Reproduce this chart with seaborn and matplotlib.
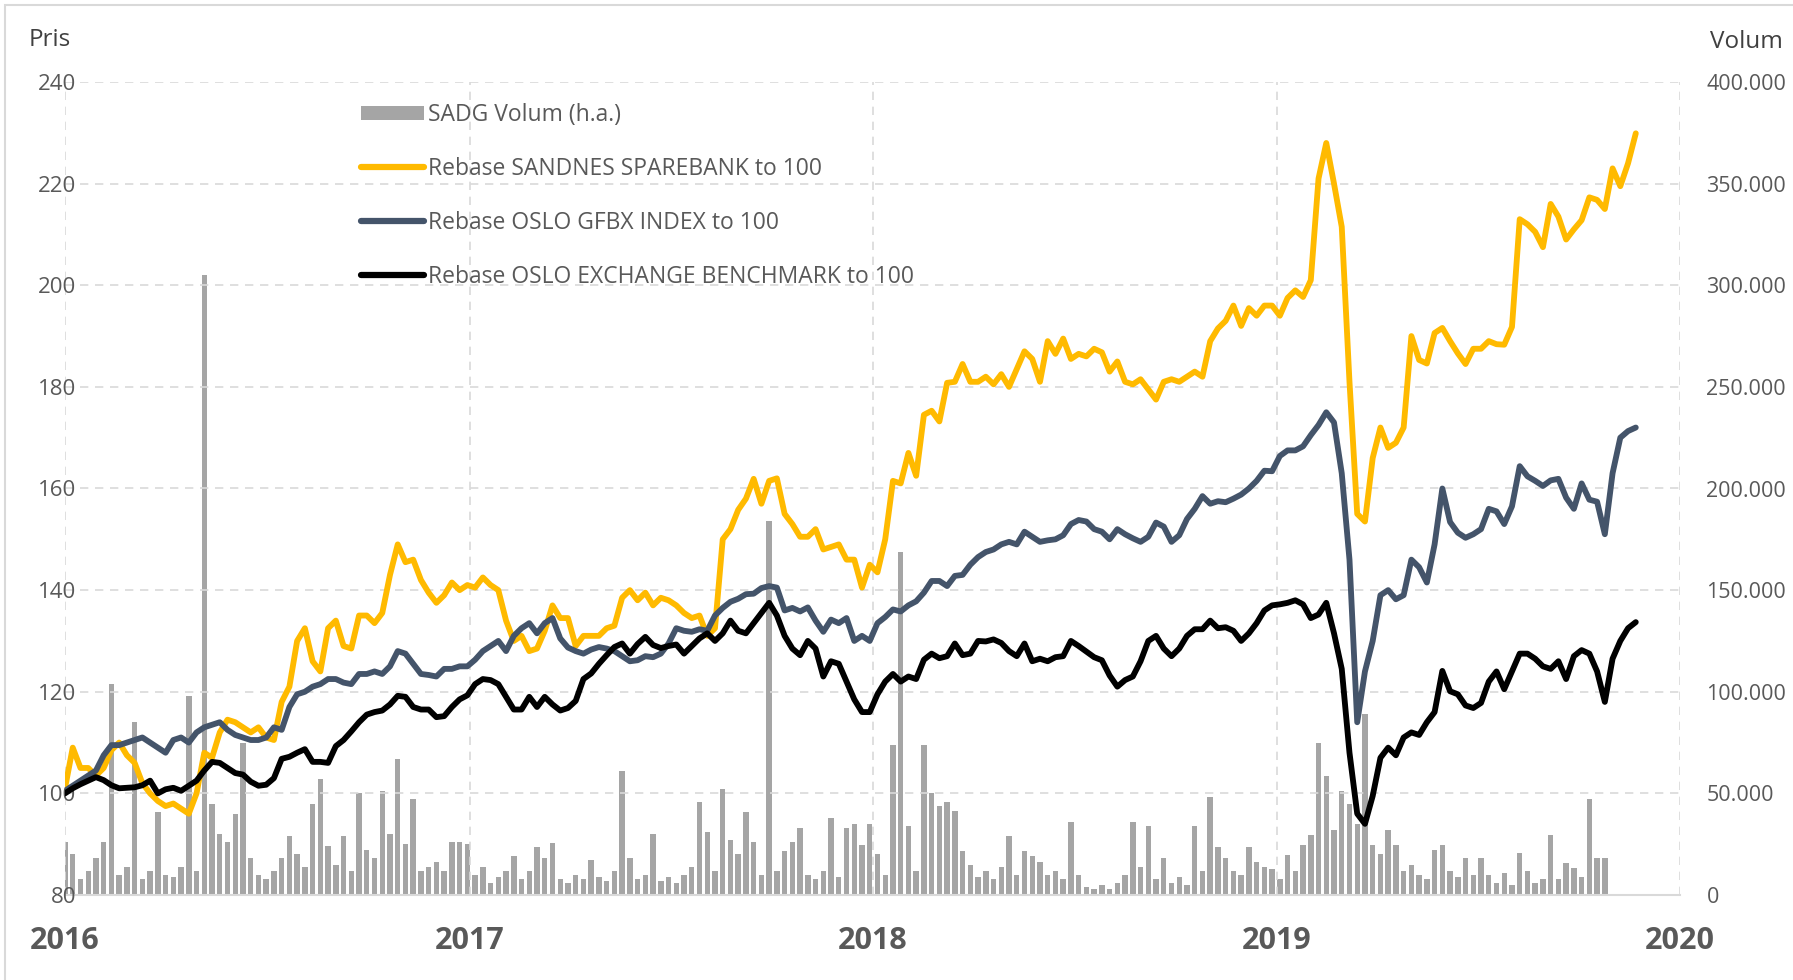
import numpy as np
import pandas as pd
import matplotlib
matplotlib.use("Agg")
import matplotlib.pyplot as plt
import matplotlib.dates as mdates
import seaborn as sns
from matplotlib.lines import Line2D
from matplotlib.patches import Patch, Rectangle
from matplotlib.ticker import FuncFormatter

sns.set_theme(style="white")
plt.rcParams["font.family"] = ["Open Sans", "DejaVu Sans"]

# ---------------- data (weekly readings, rebased to 100) ----------------
sandnes_2016 = [101, 109, 105, 105, 103.5, 105, 108.5, 110, 107.5, 106, 102, 100, 98.5, 97.5, 98, 97, 96, 100,
                108, 107, 112, 114.5, 114, 113, 112, 113, 111, 110.5, 118, 121, 130, 132.5, 126, 124, 132.5, 134,
                129, 128.5, 135, 135, 133.5, 135.5, 143, 149, 145.5, 146, 142, 139.5, 137.5, 139, 141.5, 140]
sandnes_2017 = [141, 140.5, 142.5, 141, 140, 134, 130, 131, 128, 128.5, 132, 137, 134.5, 134.5, 129, 131, 131, 131,
                132.5, 133, 138.5, 140, 138, 139.5, 137, 138.5, 138, 137, 135.5, 134.5, 135, 131, 132.5, 150, 152,
                155.8, 158, 161.9, 157, 161.5, 162, 155, 153, 150.5, 150.5, 152, 148, 148.5, 149, 146, 146, 140.5]
sandnes_2018 = [145, 143.5, 150, 161.5, 161, 167, 162.5, 174.5, 175.3, 173.2, 180.8, 181, 184.5, 181, 181, 182,
                180.5, 182.5, 180, 183.5, 187, 185.5, 181, 189, 186.5, 189.5, 185.5, 186.5, 186, 187.5, 186.8, 183,
                185, 181, 180.5, 181.5, 179.5, 177.5, 181, 181.5, 181, 182, 183, 182, 189, 191.5, 193, 196, 192,
                195.5, 194, 196]
sandnes_2019 = [196, 194, 197.5, 199, 197.7, 201, 221, 228, 220, 211.5, 181, 155, 153.5, 166, 172, 168, 169, 172,
                190, 185.3, 184.6, 190.6, 191.6, 189, 186.6, 184.5, 187.5, 187.5, 189, 188.4, 188.3, 191.8, 213, 212,
                210.5, 207.5, 216, 213.5, 209, 211, 212.8, 217.3, 216.8, 215, 223, 219.5, 224, 229.9]

gfbx_2016 = [100.5, 101.5, 102.5, 103.5, 104.5, 107.5, 109.5, 109.5, 110, 110.5, 111, 110, 109, 108, 110.5, 111,
             110, 112, 113, 113.5, 114, 112.5, 111.5, 111, 110.5, 110.5, 111, 113, 112.5, 117, 119.5, 120, 121,
             121.5, 122.5, 122.5, 121.8, 121.5, 123.5, 123.5, 124, 123.5, 125, 128, 127.5, 125.5, 123.5, 123.3, 123,
             124.5, 124.5, 125]
gfbx_2017 = [125, 126.3, 128, 129, 130, 128, 131, 132.5, 133.5, 131.5, 133.5, 134.5, 130.5, 128.7, 128, 127.5,
             128.3, 128.8, 128.5, 128, 127, 126, 126.2, 127, 126.8, 127.5, 129.5, 132.5, 132, 131.8, 132.3, 132, 135,
             136.5, 137.7, 138.3, 139.2, 139.3, 140.4, 140.8, 140.5, 136, 136.5, 135.8, 136.6, 134, 131.8, 134.2,
             133.5, 134.5, 130, 131]
gfbx_2018 = [130, 133.5, 134.7, 136.2, 135.8, 137, 137.8, 139.5, 141.8, 141.8, 140.8, 142.8, 143, 145, 146.5, 147.5,
             148, 149, 149.5, 149, 151.5, 150.5, 149.5, 149.8, 150, 150.8, 153, 153.8, 153.5, 152, 151.5, 150, 152,
             151, 150.2, 149.5, 150.5, 153.3, 152.5, 149.5, 150.8, 154, 156, 158.5, 157, 157.5, 157.3, 158, 158.8,
             160, 161.5, 163.5]
gfbx_2019 = [163.4, 166.4, 167.5, 167.5, 168.3, 170.5, 172.5, 175, 173, 163, 146, 114, 124, 130, 139, 140, 138.2,
             139, 146, 144.5, 141.5, 149, 160, 153.4, 151.3, 150.3, 151, 152, 156, 155.5, 153, 156.5, 164.4, 162.4,
             161.5, 160.5, 161.6, 161.9, 158.2, 156, 161, 157.8, 157.4, 151, 163, 170, 171.3, 172]

osebx_2016 = [100, 101, 101.8, 102.5, 103.2, 102.6, 101.6, 101, 101.1, 101.2, 101.6, 102.5, 100, 100.8, 101.1, 100.5,
              101.5, 102.5, 104.5, 106.2, 106, 105, 104, 103.7, 102.3, 101.5, 101.7, 103, 106.8, 107.2, 108, 108.7,
              106.2, 106.2, 106, 109.3, 110.5, 112.2, 114, 115.5, 116, 116.3, 117.5, 119.2, 119, 117, 116.5, 116.5,
              115, 115.2, 117, 118.5]
osebx_2017 = [119.3, 121.5, 122.5, 122.3, 121.5, 119, 116.5, 116.5, 119, 117, 119, 117.5, 116.3, 116.8, 118.2, 122.5,
              123.6, 125.5, 127.2, 128.8, 129.5, 127.5, 129.4, 130.8, 129.2, 128.6, 129, 129.3, 127.5, 129, 130.5,
              131.5, 130, 131.5, 134, 132, 131.5, 133.5, 135.5, 137.5, 135, 131, 128.5, 127.2, 130, 128.5, 123, 126,
              125.5, 122, 118.5, 116]
osebx_2018 = [116, 119.5, 122, 123.5, 122, 123, 122.5, 126.3, 127.5, 126.6, 127, 129.5, 127.2, 127.5, 130, 129.9,
              130.3, 129.6, 128, 127, 129.5, 126, 126.5, 126, 126.8, 127, 130, 129, 127.9, 126.8, 126.2, 123.2, 121,
              122.3, 123, 126, 130, 131, 128.5, 127, 128.5, 131, 132.3, 132.3, 134, 132.5, 132.7, 132, 130, 131.5,
              133.5, 136]
osebx_2019 = [137, 137.2, 137.5, 138, 137.2, 134.5, 135.2, 137.5, 131.5, 124.5, 108, 96, 94, 99.5, 107, 109, 107.5,
              111, 112, 111.5, 114, 116, 124.1, 120.1, 119.5, 117.3, 116.8, 117.8, 122, 124, 120.5, 124, 127.5, 127.5,
              126.5, 125, 124.5, 126, 122.5, 127, 128.2, 127.5, 124, 118, 126.5, 130, 132.5, 133.7]

# SADG volume, weekly peaks (thousand shares)
volume_2016 = [26, 20, 8, 12, 18, 26, 104, 10, 14, 85, 8, 12, 41, 10, 9, 14, 98, 12, 305, 45, 30, 26, 40, 75, 18, 10,
               8, 12, 18, 29, 20, 14, 45, 57, 24, 15, 29, 12, 50, 22, 18, 51, 30, 67, 25, 47, 12, 14, 16, 12, 26, 26]
volume_2017 = [25, 10, 14, 6, 9, 12, 19, 8, 12, 23.6, 18, 25.5, 8, 6, 10, 8, 17, 9, 7, 12, 61, 18, 8, 10, 30, 7, 9,
               6, 10, 14, 46, 31, 12, 52, 27, 20, 40.6, 26, 10, 184, 12, 21.7, 26, 33, 10, 8, 12, 37.7, 9, 33, 35, 24.5]
volume_2018 = [35, 20, 10, 73.6, 169, 34, 12, 73.6, 50, 44, 46, 41.5, 21.7, 15, 9, 12, 8, 14, 29, 10, 21.7, 19, 16,
               10, 12, 8, 36, 10, 4, 3, 5, 3, 6, 10, 36, 14, 34, 8, 18, 6, 9, 5, 34, 12, 48, 23.6, 18, 12, 10, 23.6,
               16, 14]
volume_2019 = [13, 8, 19.6, 12, 24.7, 29.7, 75, 58.7, 32, 51, 44.8, 34.7, 89, 24.7, 20, 32, 24.7, 12, 14.6, 10, 8,
               22, 24.7, 12, 9, 18.4, 10, 18.4, 9.6, 6, 10.8, 5, 20.9, 12, 6, 8, 29.7, 8, 15.9, 13.3, 9, 47.3, 18.4,
               18.4, 0, 0, 0, 0]

sandnes = sandnes_2016 + sandnes_2017 + sandnes_2018 + sandnes_2019
gfbx = gfbx_2016 + gfbx_2017 + gfbx_2018 + gfbx_2019
osebx = osebx_2016 + osebx_2017 + osebx_2018 + osebx_2019
volume = [v * 1000 for v in volume_2016 + volume_2017 + volume_2018 + volume_2019]

years = [2016, 2017, 2018, 2019, 2020]
labels = ["SADG Volum (h.a.)", "Rebase SANDNES SPAREBANK to 100",
          "Rebase OSLO GFBX INDEX to 100", "Rebase OSLO EXCHANGE BENCHMARK to 100"]

# ---------------- styling ----------------
C_YEL = "#FFBA00"
C_SLATE = "#44546A"
C_BLACK = "#000000"
C_BAR = "#A5A5A5"
C_TXT = "#595959"
C_GRID = "#D9D9D9"

dates = pd.date_range("2016-01-01", periods=len(sandnes), freq="7D")
xnum = mdates.date2num(dates)

W, H = 1793, 980
fig = plt.figure(figsize=(W / 100, H / 100), dpi=100)
ax = fig.add_axes([65 / W, 1 - 895 / H, (1680 - 65) / W, (895 - 82) / H])
ax2 = ax.twinx()

# volume bars (right axis)
sns.barplot(x=xnum, y=volume, native_scale=True, ax=ax2, color=C_BAR, width=0.7,
            errorbar=None, saturation=1, linewidth=0)

# price lines (left axis)
sns.lineplot(x=xnum, y=sandnes, ax=ax, color=C_YEL, lw=4.2, zorder=3)
sns.lineplot(x=xnum, y=gfbx, ax=ax, color=C_SLATE, lw=4.2, zorder=4)
sns.lineplot(x=xnum, y=osebx, ax=ax, color=C_BLACK, lw=4.2, zorder=5)

ax.set_zorder(ax2.get_zorder() + 1)
ax.patch.set_visible(False)

xyears = mdates.date2num([pd.Timestamp(f"{y}-01-01") for y in years])
ax.set_xlim(xyears[0], xyears[-1])
ax2.set_xlim(xyears[0], xyears[-1])
ax.set_ylim(80, 240)
ax2.set_ylim(0, 400000)

ax.set_yticks(np.arange(80, 241, 20))
ax2.set_yticks(np.arange(0, 400001, 50000))
ax2.yaxis.set_major_formatter(FuncFormatter(lambda v, p: f"{int(v):,}".replace(",", ".")))
ax.set_xticks(xyears)
ax.set_xticklabels([str(y) for y in years])

ax.grid(True, ls=(0, (5, 4)), color=C_GRID, lw=1.2)
ax2.grid(False)
for a in (ax, ax2):
    for s in a.spines.values():
        s.set_visible(False)
    a.set_xlabel("")
    a.set_ylabel("")
ax2.spines["bottom"].set_visible(True)
ax2.spines["bottom"].set_color(C_GRID)
ax2.spines["bottom"].set_linewidth(1.5)

ax.tick_params(axis="y", length=0, pad=-8, labelsize=16, labelcolor=C_TXT)
ax2.tick_params(axis="y", length=0, pad=19, labelsize=15.5, labelcolor=C_TXT)
ax.tick_params(axis="x", length=0, pad=22, labelsize=22, labelcolor=C_TXT)
for t in ax.get_xticklabels():
    t.set_fontweight("bold")

fig.text(29 / W, 1 - 40 / H, "Pris", fontsize=17.5, color="#404040", va="center", ha="left")
fig.text(1710 / W, 1 - 42 / H, "Volum", fontsize=17.5, color="#404040", va="center", ha="left")

handles = [Patch(facecolor=C_BAR, edgecolor="none"),
           Line2D([], [], color=C_YEL, lw=4.5),
           Line2D([], [], color=C_SLATE, lw=4.5),
           Line2D([], [], color=C_BLACK, lw=4.5)]
leg = fig.legend(handles, labels, loc="upper left", bbox_to_anchor=(352 / W, 1 - 94 / H),
                 frameon=False, fontsize=16.5, handlelength=2.75, handleheight=0.55,
                 handletextpad=0.15, labelspacing=1.3, borderaxespad=0)
for t in leg.get_texts():
    t.set_color(C_TXT)

fig.patches.append(Rectangle((5 / W, -0.05), 1.2, 1 - 5 / H + 0.05, transform=fig.transFigure,
                             fill=False, edgecolor=C_GRID, lw=1.5))

fig.savefig("out.png", dpi=100, facecolor="white")
